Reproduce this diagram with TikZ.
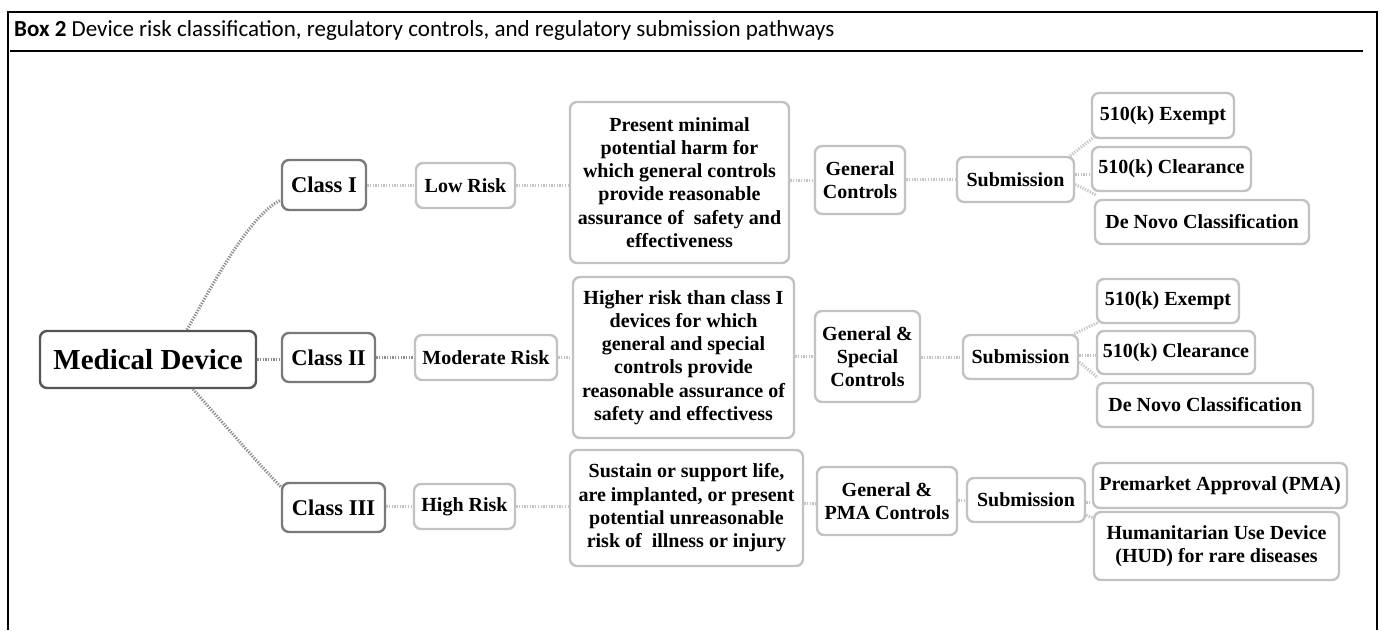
\documentclass[tikz,border=0pt]{standalone}
\usepackage{fontspec}
\setmainfont{Liberation Serif}
\newfontfamily\hdrfont{Carlito}
\definecolor{mddraw}{HTML}{555555}
\definecolor{cldraw}{HTML}{7A7A7A}
\definecolor{ldraw}{HTML}{C2C2C2}
\definecolor{dkdot}{HTML}{8E8E8E}
\definecolor{ltdot}{HTML}{C4C4C4}
\tikzset{
  box/.style={draw, rounded corners=7pt, line width=2.4pt, align=center, inner sep=0pt, fill=white, text=black},
  sz/.style 2 args={minimum width=#1pt, minimum height=#2pt},
  mdbox/.style={box, draw=mddraw, font=\fontsize{29}{34}\selectfont\bfseries},
  clbox/.style={box, draw=cldraw, font=\fontsize{22.5}{26}\selectfont\bfseries},
  lbox/.style={box, draw=ldraw, font=\fontsize{20}{23.3}\selectfont\bfseries},
  dotdk/.style={draw=dkdot, line width=3pt, dash pattern=on 1.3pt off 1.4pt},
  dotlt/.style={draw=ltdot, line width=3pt, dash pattern=on 1.3pt off 1.4pt},
  frame/.style={draw=black, line width=2pt}
}
\begin{document}
\begin{tikzpicture}[x=1pt,y=-1pt]
\useasboundingbox (0,0) rectangle (1383,630);
% frame and header
\draw[frame] (8,630) -- (8,12) -- (1377,12) -- (1377,630);
\draw[draw=black, line width=1.6pt] (10,51) -- (1363,51);
\node[anchor=base west, inner sep=0pt, font=\hdrfont\fontsize{23}{27}\selectfont] (title) at (14,36)
  {\textbf{Box 2} Device risk classification, regulatory controls, and regulatory submission pathways};

% root
\node[mdbox, sz={216}{57}] (md) at (148,359.5) {Medical Device};

% row 1
\node[clbox, sz={84}{50}] (c1) at (324,185) {Class I};
\node[lbox, sz={99}{45}] (lr) at (465.5,185.5) {Low Risk};
\node[lbox, sz={219}{161}] (b1) at (679.5,182.5) {Present minimal\\potential harm for\\which general controls\\provide reasonable\\assurance of \ safety and\\effectiveness};
\node[lbox, sz={90}{68}] (gc1) at (860,180) {General\\Controls};
\node[lbox, sz={117}{45}] (s1) at (1015.5,179.5) {Submission};
\node[lbox, sz={142}{45}] (e1) at (1163,115.5) {510(k) Exempt};
\node[lbox, sz={159}{44}] (cl1) at (1171.5,169) {510(k) Clearance};
\node[lbox, sz={214}{44}] (dn1) at (1202,222) {De Novo Classification};

% row 2
\node[clbox, sz={93}{49}] (c2) at (328.5,357.5) {Class II};
\node[lbox, sz={142}{45}] (mr) at (486,357.5) {Moderate Risk};
\node[lbox, sz={221}{161}] (b2) at (683.5,357.5) {Higher risk than class I\\devices for which\\general and special\\controls provide\\reasonable assurance of\\safety and effectivess};
\node[lbox, sz={105}{91}] (gc2) at (867.5,356.5) {General \&\\Special\\Controls};
\node[lbox, sz={115}{44}] (s2) at (1020.5,357) {Submission};
\node[lbox, sz={142}{44}] (e2) at (1168,301) {510(k) Exempt};
\node[lbox, sz={158}{43}] (cl2) at (1176,352.5) {510(k) Clearance};
\node[lbox, sz={216}{44}] (dn2) at (1205,405) {De Novo Classification};

% row 3
\node[clbox, sz={103}{49}] (c3) at (333.5,507.5) {Class III};
\node[lbox, sz={101}{45}] (hr) at (464.5,506.5) {High Risk};
\node[lbox, sz={233}{116}] (b3) at (686.5,508) {Sustain or support life,\\are implanted, or present\\potential unreasonable\\risk of \ illness or injury};
\node[lbox, sz={140}{68}] (gc3) at (887,501) {General \&\\PMA Controls};
\node[lbox, sz={118}{44}] (s3) at (1026,500) {Submission};
\node[lbox, sz={254}{45}] (pma) at (1220,485.5) {Premarket Approval (PMA)};
\node[lbox, sz={245}{68}] (hud) at (1216.5,546) {Humanitarian Use Device\\(HUD) for rare diseases};

% connectors from root
\draw[dotdk] ([xshift=39pt]md.north) .. controls (215,280) and (250,215) .. ([yshift=-15pt]c1.west);
\draw[dotdk] (md.east) -- (c2.west |- md.east);
\draw[dotdk] ([xshift=45pt]md.south) .. controls (225,425) and (255,460) .. ([yshift=-5pt]c3.north west);

% row 1 connectors
\draw[dotlt] (c1.east) -- (lr.west |- c1.east);
\draw[dotlt] (lr.east) -- (b1.west |- lr.east);
\draw[dotlt] (b1.east |- gc1.west) -- (gc1.west);
\draw[dotlt] (gc1.east |- s1.west) -- (s1.west);
\draw[dotlt] ([xshift=-5pt]s1.north east) -- ([xshift=3pt,yshift=2pt]e1.south west);
\draw[dotlt] ([yshift=5pt]s1.east) -- ([yshift=5pt]s1.east -| cl1.west);
\draw[dotlt] ([yshift=-5pt]s1.east) -- ([xshift=2pt,yshift=4pt]dn1.north west);

% row 2 connectors
\draw[dotdk] (c2.east |- mr.west) -- (mr.west) ;
\draw[dotlt] (mr.east) -- (b2.west |- mr.east);
\draw[dotlt] (b2.east |- gc2.west) -- (gc2.west);
\draw[dotlt] (gc2.east |- s2.west) -- (s2.west);
\draw[dotlt] ([xshift=-5pt]s2.north east) -- ([xshift=3pt,yshift=2pt]e2.south west);
\draw[dotlt] ([yshift=2pt]s2.east) -- ([yshift=2pt]s2.east -| cl2.west);
\draw[dotlt] ([yshift=-5pt]s2.east) -- ([xshift=2pt,yshift=4pt]dn2.north west);

% row 3 connectors
\draw[dotlt] (c3.east |- hr.west) -- (hr.west);
\draw[dotlt] (hr.east) -- (b3.west |- hr.east);
\draw[dotlt] ([yshift=-2pt]b3.east |- gc3.west) -- ([yshift=-2pt]gc3.west);
\draw[dotlt] (gc3.east |- s3.west) -- (s3.west);
\draw[dotlt] ([yshift=-2pt]s3.east) -- ([yshift=-2pt]s3.east -| pma.west);
\draw[dotlt] ([yshift=-15pt]s3.east) -- ([yshift=-7pt]hud.north west);
\end{tikzpicture}
\end{document}
